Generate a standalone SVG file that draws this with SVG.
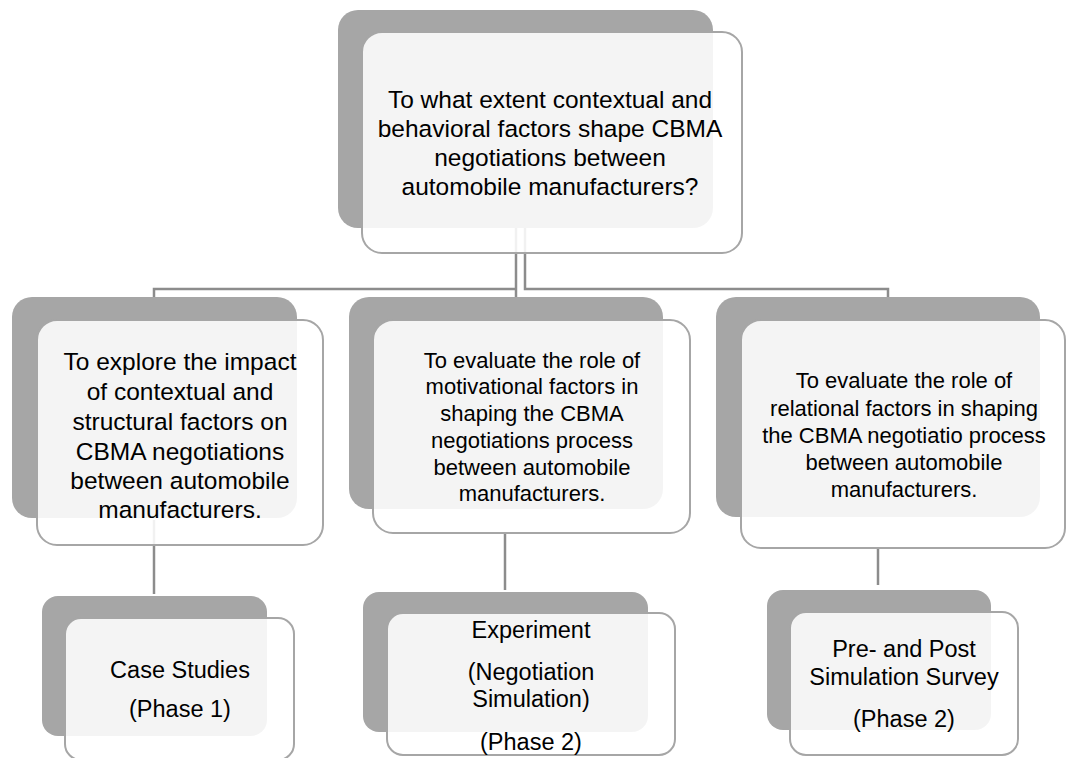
<svg xmlns="http://www.w3.org/2000/svg" width="1068" height="758" viewBox="0 0 1068 758">
<style>
.back{fill:#a6a6a6}
.front{fill:#ffffff;fill-opacity:0.88;stroke:#a6a6a6;stroke-width:2}
.conn{fill:none;stroke:#8c8c8c;stroke-width:2.5}
text{font-family:"Liberation Sans",Arial,sans-serif;fill:#000;text-anchor:middle}
.t24{font-size:24.5px}
.t22{font-size:22px}
.b{font-size:23.5px}
</style>
<rect width="1068" height="758" fill="#ffffff"/>
<g id="connectors">
<path class="conn" d="M516,228 V297"/>
<path class="conn" d="M516,289 H154 V297"/>
<path class="conn" d="M525,228 V289 H888 V297"/>
<path class="conn" d="M154,520 V594"/>
<path class="conn" d="M505,533 V590"/>
<path class="conn" d="M878,548 V585"/>
</g>
<g id="top">
<rect class="back" x="338" y="10" width="375" height="218" rx="20"/>
<rect class="front" x="362" y="32" width="380" height="221" rx="20"/>
<text class="t24"><tspan x="550" y="108">To what extent contextual and</tspan><tspan x="550" y="137">behavioral factors shape CBMA</tspan><tspan x="550" y="166">negotiations between</tspan><tspan x="550" y="195">automobile manufacturers?</tspan></text>
</g>
<g id="obj1">
<rect class="back" x="12" y="297" width="285" height="221" rx="20"/>
<rect class="front" x="37" y="320" width="286" height="225" rx="20"/>
<text class="t24"><tspan x="180" y="370">To explore the impact</tspan><tspan x="180" y="400">of contextual and</tspan><tspan x="180" y="430">structural factors on</tspan><tspan x="180" y="460">CBMA negotiations</tspan><tspan x="180" y="489">between automobile</tspan><tspan x="180" y="518">manufacturers.</tspan></text>
</g>
<g id="obj2">
<rect class="back" x="349" y="297" width="314" height="212" rx="20"/>
<rect class="front" x="373" y="320" width="317" height="213" rx="20"/>
<text class="t22"><tspan x="532" y="368">To evaluate the role of</tspan><tspan x="532" y="394">motivational factors in</tspan><tspan x="532" y="421">shaping the CBMA</tspan><tspan x="532" y="448">negotiations process</tspan><tspan x="532" y="475">between automobile</tspan><tspan x="532" y="501">manufacturers.</tspan></text>
</g>
<g id="obj3">
<rect class="back" x="716" y="297" width="324" height="220" rx="20"/>
<rect class="front" x="741" y="320" width="324" height="228" rx="20"/>
<text class="t22"><tspan x="904" y="388">To evaluate the role of</tspan><tspan x="904" y="416">relational factors in shaping</tspan><tspan x="904" y="443">the CBMA negotiatio process</tspan><tspan x="904" y="470">between automobile</tspan><tspan x="904" y="497">manufacturers.</tspan></text>
</g>
<g id="method1">
<rect class="back" x="42" y="596" width="225" height="140" rx="16"/>
<rect class="front" x="65" y="618" width="229" height="142" rx="16"/>
<text class="b"><tspan x="180" y="678">Case Studies</tspan><tspan x="180" y="717">(Phase 1)</tspan></text>
</g>
<g id="method2">
<rect class="back" x="363" y="592" width="285" height="140" rx="16"/>
<rect class="front" x="387" y="613" width="288" height="142" rx="16"/>
<text class="b"><tspan x="531" y="638">Experiment</tspan><tspan x="531" y="680">(Negotiation</tspan><tspan x="531" y="707">Simulation)</tspan><tspan x="531" y="750">(Phase 2)</tspan></text>
</g>
<g id="method3">
<rect class="back" x="767" y="590" width="224" height="140" rx="16"/>
<rect class="front" x="790" y="612" width="228" height="143" rx="16"/>
<text class="b"><tspan x="904" y="657">Pre- and Post</tspan><tspan x="904" y="685">Simulation Survey</tspan><tspan x="904" y="727">(Phase 2)</tspan></text>
</g>
</svg>
